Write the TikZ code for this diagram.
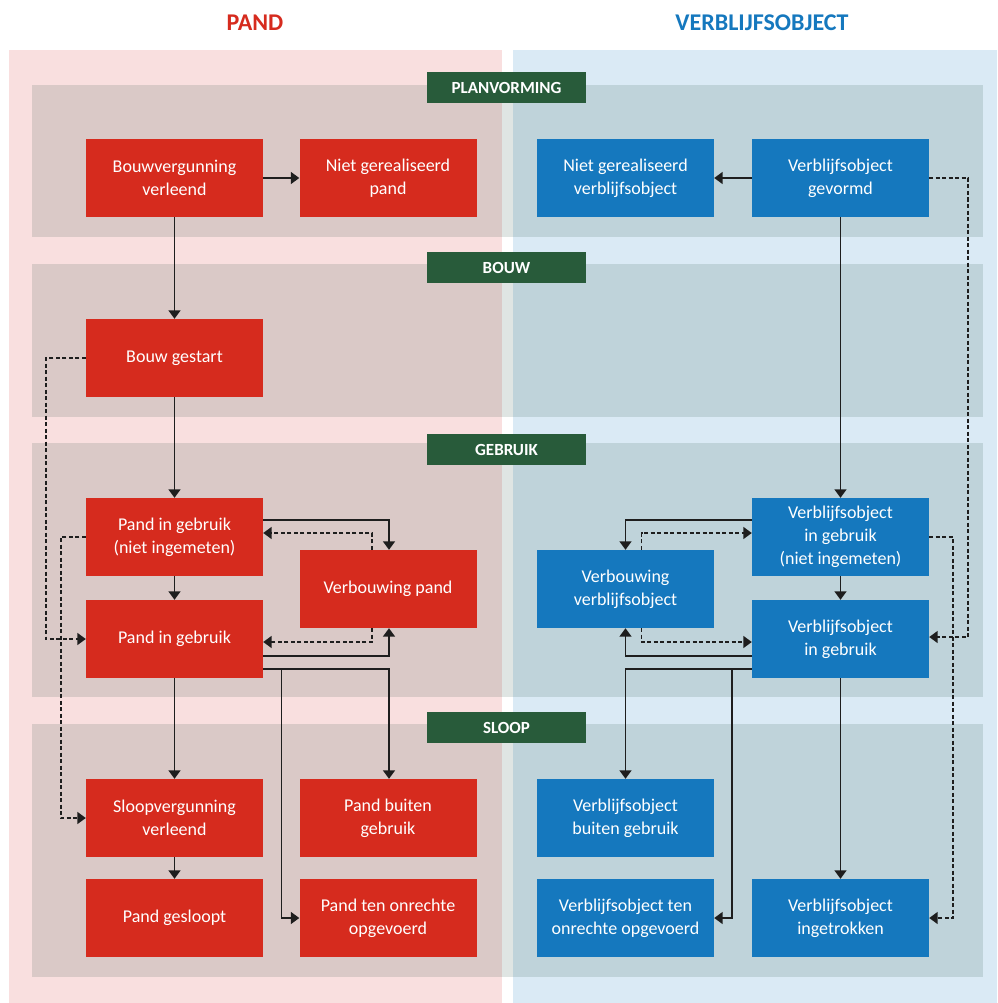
\documentclass[tikz,border=0pt]{standalone}
\usepackage{fontspec}
\setmainfont{Carlito}
\usetikzlibrary{arrows.meta}
\definecolor{pandred}{RGB}{214,43,30}
\definecolor{voblue}{RGB}{21,120,190}
\definecolor{pinkbg}{RGB}{249,223,223}
\definecolor{bluebg}{RGB}{218,234,245}
\definecolor{bandc}{RGB}{10,60,40}
\definecolor{phasec}{RGB}{40,91,58}
\definecolor{linc}{RGB}{30,30,30}
\begin{document}
\begin{tikzpicture}[x=1pt,y=-1pt,
  box/.style={rectangle, minimum width=177pt, minimum height=78pt, inner sep=0pt,
    text=white, align=center, font=\fontsize{18}{23}\selectfont},
  pbox/.style={box, fill=pandred},
  vbox/.style={box, fill=voblue},
  phase/.style={rectangle, fill=phasec, minimum width=159pt, minimum height=31pt, inner sep=0pt,
    text=white, font=\fontsize{17}{20}\selectfont\bfseries},
  band/.style={fill=bandc, fill opacity=0.13},
  arr/.style={draw=linc, line width=1.6pt, -{Triangle[length=8.5pt,width=12pt]}},
  darr/.style={draw=linc, line width=1.6pt, dash pattern=on 4pt off 2.5pt, -{Triangle[length=8.5pt,width=12pt]}},
]
\useasboundingbox (0,0) rectangle (997,1003);
\fill[white] (0,0) rectangle (997,1003);
% panels
\fill[pinkbg] (9,50) rectangle (502,1003);
\fill[bluebg] (513,50) rectangle (997,1003);
% bands
\fill[band] (32,85) rectangle (983,237);
\fill[band] (32,264) rectangle (983,417);
\fill[band] (32,443) rectangle (983,697);
\fill[band] (32,724) rectangle (983,977);
% headers
\node[text=pandred, font=\fontsize{24}{28}\selectfont\bfseries] (hp) at (255,23) {PAND};
\node[text=voblue, font=\fontsize{24}{28}\selectfont\bfseries] (hv) at (762,23) {VERBLIJFSOBJECT};
% phase labels
\node[phase] (ph1) at (506.5,87.5) {PLANVORMING};
\node[phase] (ph2) at (506.5,267.5) {BOUW};
\node[phase] (ph3) at (506.5,449.5) {GEBRUIK};
\node[phase] (ph4) at (506.5,727.5) {SLOOP};
% pand nodes
\node[pbox] (bv) at (174.5,178) {Bouwvergunning\\verleend};
\node[pbox] (ngp) at (388,178) {Niet gerealiseerd\\pand};
\node[pbox] (bg) at (174.5,358) {Bouw gestart};
\node[pbox] (pni) at (174.5,537) {Pand in gebruik\\(niet ingemeten)};
\node[pbox] (vp) at (388,589) {Verbouwing pand};
\node[pbox] (pig) at (174.5,639) {Pand in gebruik};
\node[pbox] (svl) at (174.5,818) {Sloopvergunning\\verleend};
\node[pbox] (pbg) at (388,818) {Pand buiten\\gebruik};
\node[pbox] (pgs) at (174.5,918) {Pand gesloopt};
\node[pbox] (pto) at (388,918) {Pand ten onrechte\\opgevoerd};
% verblijfsobject nodes
\node[vbox] (ngv) at (625.5,178) {Niet gerealiseerd\\verblijfsobject};
\node[vbox] (vog) at (840.5,178) {Verblijfsobject\\gevormd};
\node[vbox] (vni) at (840.5,537) {Verblijfsobject\\in gebruik\\(niet ingemeten)};
\node[vbox] (vv) at (625.5,589) {Verbouwing\\verblijfsobject};
\node[vbox] (vig) at (840.5,639) {Verblijfsobject\\in gebruik};
\node[vbox] (vbg) at (625.5,818) {Verblijfsobject\\buiten gebruik};
\node[vbox] (vto) at (625.5,918) {Verblijfsobject ten\\onrechte opgevoerd};
\node[vbox] (vin) at (840.5,918) {Verblijfsobject\\ingetrokken};
% pand connectors
\draw[arr] (bv.east) -- (ngp.west);
\draw[arr] (bv.south) -- (bg.north);
\draw[arr] (bg.south) -- (pni.north);
\draw[arr] (pni.south) -- (pig.north);
\draw[arr] (pig.south) -- (svl.north);
\draw[arr] (svl.south) -- (pgs.north);
\draw[arr] ([yshift=17pt]pni.east) -| ([xshift=1pt]vp.north);
\draw[darr] ([xshift=-16pt]vp.north) |- ([yshift=4pt]pni.east);
\draw[arr] ([yshift=-17pt]pig.east) -| ([xshift=1pt]vp.south);
\draw[darr] ([xshift=-16pt]vp.south) |- ([yshift=-3pt]pig.east);
\draw[arr] ([yshift=-30pt]pig.east) -| ([xshift=1pt]pbg.north);
\draw[arr] ([yshift=-30pt]pig.east) -| ([xshift=-18pt]pto.west) -- (pto.west);
\draw[darr] (bg.west) -- ++(-40,0) |- (pig.west);
\draw[darr] (pni.west) -- ++(-25,0) |- (svl.west);
% verblijfsobject connectors
\draw[arr] (vog.west) -- (ngv.east);
\draw[arr] (vog.south) -- (vni.north);
\draw[arr] (vni.south) -- (vig.north);
\draw[arr] (vig.south) -- (vin.north);
\draw[darr] (vog.east) -- ++(39,0) |- ([yshift=2pt]vig.east);
\draw[darr] (vni.east) -- ++(24,0) |- (vin.east);
\draw[arr] ([yshift=17pt]vni.west) -| (vv.north);
\draw[darr] ([xshift=16pt]vv.north) |- ([yshift=4pt]vni.west);
\draw[arr] ([yshift=-17pt]vig.west) -| (vv.south);
\draw[darr] ([xshift=16pt]vv.south) |- ([yshift=-3pt]vig.west);
\draw[arr] ([yshift=-30pt]vig.west) -| (vbg.north);
\draw[arr] ([yshift=-30pt]vig.west) -| ([xshift=18pt]vto.east) -- (vto.east);
\end{tikzpicture}
\end{document}
